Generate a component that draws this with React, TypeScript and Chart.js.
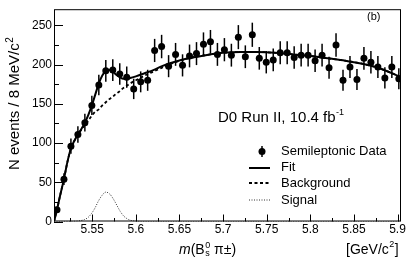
import { useEffect, useRef } from "react";
import { Chart, registerables } from "chart.js";

Chart.register(...registerables);

// ---- data ----
const binMass = [
  5.5095, 5.5175, 5.5255, 5.5335, 5.5415, 5.5495, 5.5575, 5.5655, 5.5735, 5.5815,
  5.5895, 5.5975, 5.6055, 5.6135, 5.6215, 5.6295, 5.6375, 5.6455, 5.6535, 5.6615,
  5.6695, 5.6775, 5.6855, 5.6935, 5.7015, 5.7095, 5.7175, 5.7255, 5.7335, 5.7415,
  5.7495, 5.7575, 5.7655, 5.7735, 5.7815, 5.7895, 5.7975, 5.8055, 5.8135, 5.8215,
  5.8295, 5.8375, 5.8455, 5.8535, 5.8615, 5.8695, 5.8775, 5.8855, 5.8935, 5.9015,
];
const eventCounts = [
  15, 54, 96, 111, 126, 148, 174, 192, 193, 188,
  184, 169, 178, 180, 218, 223, 198, 213, 199, 211,
  214, 226, 229, 213, 219, 212, 235, 210, 238, 208,
  203, 206, 215, 215, 209, 212, 212, 205, 212, 196,
  225, 180, 197, 181, 208, 203, 197, 183, 197, 182,
];

const fitMass = [
  5.5061, 5.5095, 5.5135, 5.5175, 5.5215, 5.5255, 5.5295, 5.5335, 5.5375, 5.5415,
  5.5455, 5.5495, 5.5535, 5.5575, 5.5615, 5.5655, 5.5695, 5.5735, 5.5775, 5.5815,
  5.5855, 5.5895, 5.5935, 5.6, 5.61, 5.62, 5.63, 5.64, 5.66, 5.68,
  5.7, 5.72, 5.74, 5.76, 5.78, 5.8, 5.82, 5.84, 5.86, 5.88, 5.904,
];
const fitValues = [
  0, 15, 35, 54, 76, 93, 103, 111, 118, 126,
  136, 148, 162, 176, 186, 192, 193, 191, 187, 184,
  182, 182, 183, 185, 189, 193, 198, 202, 208, 212,
  215, 216, 216, 215, 213, 211, 208, 205, 201, 195, 184,
];

const bkgMass = [
  5.5061, 5.5095, 5.5135, 5.5175, 5.5215, 5.5255, 5.5295, 5.5335, 5.5375, 5.5415,
  5.5455, 5.5495, 5.5535, 5.5575, 5.5615, 5.5655, 5.5695, 5.5735, 5.5775, 5.5815,
  5.5855, 5.5895, 5.5935, 5.6, 5.61, 5.62, 5.63, 5.64, 5.66, 5.68,
  5.7, 5.72, 5.74, 5.76, 5.78, 5.8, 5.82, 5.84, 5.86, 5.88, 5.904,
];
const bkgValues = [
  0, 15, 35, 54, 76, 93, 103, 111, 117, 123,
  129, 135, 140, 143, 148, 152, 156, 159, 163, 166,
  170, 173, 176, 180, 186, 191, 196, 201, 208, 212,
  215, 216, 216, 215, 213, 211, 208, 205, 201, 195, 184,
];

const sigMass = [
  5.5061, 5.53, 5.537, 5.541, 5.545, 5.549, 5.553, 5.557, 5.561, 5.5655,
  5.57, 5.574, 5.578, 5.582, 5.586, 5.59, 5.594, 5.6, 5.61, 5.904,
];
const sigValues = [
  0, 0.3, 1.2, 2.5, 5, 10, 17, 26, 33, 37.5,
  35, 29, 21, 13, 7, 3.5, 1.5, 0.4, 0, 0,
];

const xMajorTicks = [5.55, 5.6, 5.65, 5.7, 5.75, 5.8, 5.85, 5.9];
const xMinorTicks = [5.525, 5.575, 5.625, 5.675, 5.725, 5.775, 5.825, 5.875];
const yMajorTicks = [0, 50, 100, 150, 200, 250];
const yMinorTicks = [25, 75, 125, 175, 225];

const legendLabels = ["Semileptonic Data", "Fit", "Background", "Signal"];
const yTitle = "N events / 8 MeV/c";
const xUnit = "[GeV/c";
const runLabel = "D0 Run II, 10.4 fb";
const panelLabel = "(b)";

const FONT = "'Liberation Sans', Arial, Helvetica, sans-serif";

const decorPlugin = {
  id: "decor",
  afterDatasetsDraw(chart: any) {
    const { ctx, scales } = chart;
    const x = scales.x;
    const y = scales.y;
    ctx.save();
    ctx.strokeStyle = "#000";
    ctx.lineWidth = 1.5;
    eventCounts.forEach((v, i) => {
      const px = x.getPixelForValue(binMass[i]);
      const e = Math.sqrt(v);
      ctx.beginPath();
      ctx.moveTo(px, y.getPixelForValue(v + e));
      ctx.lineTo(px, y.getPixelForValue(v - e));
      ctx.stroke();
    });
    ctx.restore();
  },
  afterDraw(chart: any) {
    const { ctx, chartArea: a, scales } = chart;
    const x = scales.x;
    const y = scales.y;
    ctx.save();
    // frame
    ctx.strokeStyle = "#000";
    ctx.lineWidth = 1;
    ctx.strokeRect(a.left + 0.5, a.top + 0.5, a.right - a.left - 1, a.bottom - a.top - 1);
    // ticks
    ctx.beginPath();
    yMajorTicks.forEach((v) => {
      const py = Math.round(y.getPixelForValue(v)) + 0.5;
      ctx.moveTo(a.left, py);
      ctx.lineTo(a.left + 9, py);
    });
    yMinorTicks.forEach((v) => {
      const py = Math.round(y.getPixelForValue(v)) + 0.5;
      ctx.moveTo(a.left, py);
      ctx.lineTo(a.left + 5, py);
    });
    xMajorTicks.forEach((v) => {
      const px = Math.round(x.getPixelForValue(v)) + 0.5;
      ctx.moveTo(px, a.bottom);
      ctx.lineTo(px, a.bottom - 7);
    });
    xMinorTicks.forEach((v) => {
      const px = Math.round(x.getPixelForValue(v)) + 0.5;
      ctx.moveTo(px, a.bottom);
      ctx.lineTo(px, a.bottom - 3.5);
    });
    ctx.stroke();

    ctx.fillStyle = "#000";
    // y title (rotated)
    ctx.save();
    ctx.translate(18.5, 170);
    ctx.rotate(-Math.PI / 2);
    ctx.font = `15px ${FONT}`;
    ctx.textAlign = "left";
    ctx.textBaseline = "alphabetic";
    ctx.fillText(yTitle, 0, 0);
    const wy = ctx.measureText(yTitle).width;
    ctx.font = `10px ${FONT}`;
    ctx.fillText("2", wy + 0.5, -6);
    ctx.restore();

    // x title
    ctx.textAlign = "left";
    ctx.textBaseline = "alphabetic";
    let cx = 179;
    const by = 254;
    ctx.font = `italic 14px ${FONT}`;
    ctx.fillText("m", cx, by);
    cx += ctx.measureText("m").width;
    ctx.font = `14px ${FONT}`;
    ctx.fillText("(B", cx, by);
    cx += ctx.measureText("(B").width + 0.5;
    ctx.font = `9px ${FONT}`;
    ctx.fillText("0", cx, by - 6);
    ctx.fillText("s", cx, by + 2);
    cx += ctx.measureText("0").width;
    ctx.font = `14px ${FONT}`;
    ctx.fillText(" \u03c0\u00b1)", cx, by);

    // unit
    cx = 346;
    ctx.fillText(xUnit, cx, by);
    cx += ctx.measureText(xUnit).width;
    ctx.font = `9px ${FONT}`;
    ctx.fillText("2", cx + 0.5, by - 7);
    cx += ctx.measureText("2").width + 1;
    ctx.font = `14px ${FONT}`;
    ctx.fillText("]", cx, by);

    // panel label
    ctx.font = `11px ${FONT}`;
    ctx.fillText(panelLabel, 367, 20);

    // run label
    ctx.font = `15px ${FONT}`;
    ctx.fillText(runLabel, 218, 122);
    const wr = ctx.measureText(runLabel).width;
    ctx.font = `9px ${FONT}`;
    ctx.fillText("-1", 218 + wr + 0.5, 115);

    // legend
    const rows = [151, 167, 183, 200];
    ctx.font = `13px ${FONT}`;
    ctx.textBaseline = "middle";
    legendLabels.forEach((t, i) => ctx.fillText(t, 281, rows[i]));
    // data marker
    ctx.beginPath();
    ctx.arc(262, rows[0] + 0.5, 3.5, 0, Math.PI * 2);
    ctx.fill();
    ctx.lineWidth = 1.5;
    ctx.beginPath();
    ctx.moveTo(262, rows[0] - 5);
    ctx.lineTo(262, rows[0] + 6);
    ctx.stroke();
    // fit
    ctx.lineWidth = 2;
    ctx.beginPath();
    ctx.moveTo(249, rows[1] + 1);
    ctx.lineTo(270, rows[1] + 1);
    ctx.stroke();
    // background
    ctx.setLineDash([3, 2.5]);
    ctx.lineWidth = 1.8;
    ctx.beginPath();
    ctx.moveTo(249, rows[2]);
    ctx.lineTo(270, rows[2]);
    ctx.stroke();
    // signal
    ctx.setLineDash([1, 1.5]);
    ctx.lineWidth = 1;
    ctx.strokeStyle = "#333";
    ctx.beginPath();
    ctx.moveTo(249, rows[3]);
    ctx.lineTo(270, rows[3]);
    ctx.stroke();
    ctx.restore();
  },
};

const toXY = (xs: number[], ys: number[]) => xs.map((v, i) => ({ x: v, y: ys[i] }));

export default function App() {
  const ref = useRef<HTMLCanvasElement | null>(null);
  useEffect(() => {
    if (!ref.current) return;
    const chart = new Chart(ref.current, {
      type: "scatter",
      data: {
        datasets: [
          {
            label: legendLabels[0],
            data: toXY(binMass, eventCounts),
            pointRadius: 3.5,
            pointBackgroundColor: "#000",
            pointBorderWidth: 0,
            showLine: false,
          } as any,
          {
            label: legendLabels[1],
            type: "line",
            data: toXY(fitMass, fitValues),
            borderColor: "#000",
            borderWidth: 2,
            pointRadius: 0,
            cubicInterpolationMode: "monotone",
            fill: false,
          } as any,
          {
            label: legendLabels[2],
            type: "line",
            data: toXY(bkgMass, bkgValues),
            borderColor: "#000",
            borderWidth: 1.8,
            borderDash: [3, 2.5],
            pointRadius: 0,
            cubicInterpolationMode: "monotone",
            fill: false,
          } as any,
          {
            label: legendLabels[3],
            type: "line",
            data: toXY(sigMass, sigValues),
            borderColor: "#333",
            borderWidth: 1,
            borderDash: [1, 1.5],
            pointRadius: 0,
            cubicInterpolationMode: "monotone",
            fill: false,
          } as any,
        ],
      },
      options: {
        animation: false,
        responsive: false,
        devicePixelRatio: 1,
        layout: { padding: { top: 5, right: 6, left: 0, bottom: 0 } },
        plugins: { legend: { display: false }, tooltip: { enabled: false } },
        scales: {
          x: {
            type: "linear",
            min: 5.5061,
            max: 5.904,
            grid: { display: false, drawTicks: false },
            border: { display: false },
            afterBuildTicks: (s: any) => {
              s.ticks = xMajorTicks.map((v) => ({ value: v }));
            },
            afterFit: (s: any) => {
              s.height = 39.5;
            },
            ticks: {
              autoSkip: false,
              maxRotation: 0,
              padding: 1,
              color: "#000",
              font: { family: FONT, size: 12 },
              callback: (v: any) => String(Number(Number(v).toFixed(3))),
            },
          },
          y: {
            type: "linear",
            min: 0,
            max: 270.6,
            grid: { display: false, drawTicks: false },
            border: { display: false },
            afterBuildTicks: (s: any) => {
              s.ticks = yMajorTicks.map((v) => ({ value: v }));
            },
            afterFit: (s: any) => {
              s.width = 54;
            },
            ticks: {
              padding: 2,
              color: "#000",
              font: { family: FONT, size: 12 },
            },
          },
        },
      },
      plugins: [decorPlugin],
    });
    return () => chart.destroy();
  }, []);
  return (
    <div style={{ position: "absolute", left: 0, top: 0, width: 407, height: 261, background: "#fff" }}>
      <canvas ref={ref} width={407} height={261} />
    </div>
  );
}
